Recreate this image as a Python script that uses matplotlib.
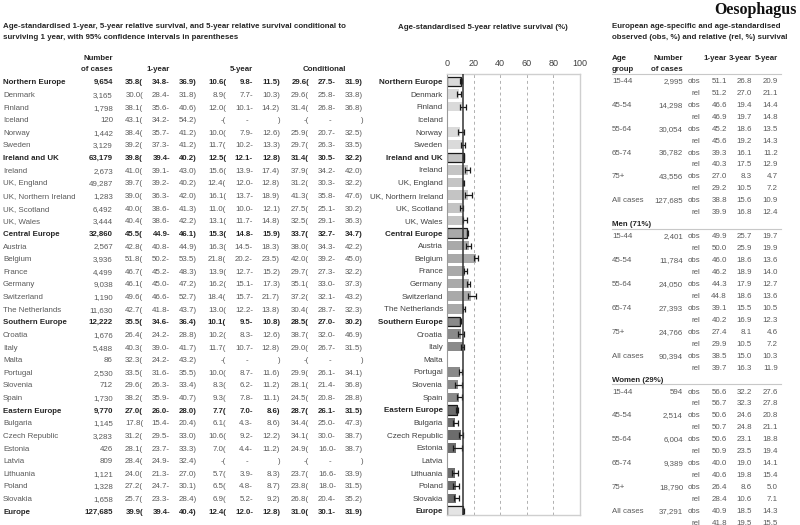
import numpy as np
import matplotlib
matplotlib.use('Agg')
import matplotlib.pyplot as plt

plt.rcParams['font.family'] = ['Liberation Sans', 'DejaVu Sans']

# ---- data: left table / middle bars ----
countries = ['Northern Europe', 'Denmark', 'Finland', 'Iceland', 'Norway', 'Sweden',
             'Ireland and UK', 'Ireland', 'UK, England', 'UK, Northern Ireland', 'UK, Scotland', 'UK, Wales',
             'Central Europe', 'Austria', 'Belgium', 'France', 'Germany', 'Switzerland', 'The Netherlands',
             'Southern Europe', 'Croatia', 'Italy', 'Malta', 'Portugal', 'Slovenia', 'Spain',
             'Eastern Europe', 'Bulgaria', 'Czech Republic', 'Estonia', 'Latvia', 'Lithuania', 'Poland', 'Slovakia',
             'Europe']
regions = ['Northern Europe', 'Ireland and UK', 'Central Europe', 'Southern Europe', 'Eastern Europe', 'Europe']
cases = [9654, 3165, 1798, 120, 1442, 3129, 63179, 2673, 49287, 1283, 6492, 3444, 32860, 2567, 3936,
         4499, 9038, 1190, 11630, 12222, 1676, 5488, 86, 2530, 712, 1730, 9770, 1145, 3283, 426, 809,
         1121, 1328, 1658, 127685]
nan = np.nan
surv1 = [35.8, 30.0, 38.1, 43.1, 38.4, 39.2, 39.8, 41.0, 39.7, 39.0, 40.0, 40.4, 45.5, 42.8, 51.8, 46.7,
         46.1, 49.6, 42.7, 35.5, 26.4, 40.3, 32.3, 33.5, 29.6, 38.2, 27.0, 17.8, 31.2, 28.1, 28.4, 24.0,
         27.2, 25.7, 39.9]
lo1 = [34.8, 28.4, 35.6, 34.2, 35.7, 37.3, 39.4, 39.1, 39.2, 36.3, 38.6, 38.6, 44.9, 40.8, 50.2, 45.2,
       45.0, 46.6, 41.8, 34.6, 24.2, 39.0, 24.2, 31.6, 26.3, 35.9, 26.0, 15.4, 29.5, 23.7, 24.9, 21.3,
       24.7, 23.3, 39.4]
hi1 = [36.9, 31.8, 40.6, 54.2, 41.2, 41.2, 40.2, 43.0, 40.2, 42.0, 41.3, 42.2, 46.1, 44.9, 53.5, 48.3,
       47.2, 52.7, 43.7, 36.4, 28.8, 41.7, 43.2, 35.5, 33.4, 40.7, 28.0, 20.4, 33.0, 33.3, 32.4, 27.0,
       30.1, 28.4, 40.4]
surv5 = [10.6, 8.9, 12.0, nan, 10.0, 11.7, 12.5, 15.6, 12.4, 16.1, 11.0, 13.1, 15.3, 16.3, 21.8, 13.9,
         16.2, 18.4, 13.0, 10.1, 10.2, 11.7, nan, 10.0, 8.3, 9.3, 7.7, 6.1, 10.6, 7.0, nan, 5.7, 6.5, 6.9, 12.4]
lo5 = [9.8, 7.7, 10.1, nan, 7.9, 10.2, 12.1, 13.9, 12.0, 13.7, 10.0, 11.7, 14.8, 14.5, 20.2, 12.7,
       15.1, 15.7, 12.2, 9.5, 8.3, 10.7, nan, 8.7, 6.2, 7.8, 7.0, 4.3, 9.2, 4.4, nan, 3.9, 4.8, 5.2, 12.0]
hi5 = [11.5, 10.3, 14.2, nan, 12.6, 13.3, 12.8, 17.4, 12.8, 18.9, 12.1, 14.8, 15.9, 18.3, 23.5, 15.2,
       17.3, 21.7, 13.8, 10.8, 12.6, 12.8, nan, 11.6, 11.2, 11.1, 8.6, 8.6, 12.2, 11.2, nan, 8.3, 8.7, 9.2, 12.8]
cond = [29.6, 29.6, 31.4, nan, 25.9, 29.7, 31.4, 37.9, 31.2, 41.3, 27.5, 32.5, 33.7, 38.0, 42.0, 29.7,
        35.1, 37.2, 30.4, 28.5, 38.7, 29.0, nan, 29.9, 28.1, 24.5, 28.7, 34.4, 34.1, 24.9, nan, 23.7,
        23.8, 26.8, 31.0]
loc = [27.5, 25.8, 26.8, nan, 20.7, 26.3, 30.5, 34.2, 30.3, 35.8, 25.1, 29.1, 32.7, 34.3, 39.2, 27.3,
       33.0, 32.1, 28.7, 27.0, 32.0, 26.7, nan, 26.1, 21.4, 20.8, 26.1, 25.0, 30.0, 16.0, nan, 16.6,
       18.0, 20.4, 30.1]
hic = [31.9, 33.8, 36.8, nan, 32.5, 33.5, 32.2, 42.0, 32.2, 47.6, 30.2, 36.3, 34.7, 42.2, 45.0, 32.2,
       37.3, 43.2, 32.3, 30.2, 46.9, 31.5, nan, 34.1, 36.8, 28.8, 31.5, 47.3, 38.7, 38.7, nan, 33.9,
       31.5, 35.2, 31.9]
group = [0]*6 + [1]*6 + [2]*7 + [3]*7 + [4]*8 + [5]
group_colors = ['#dadada', '#c4c4c4', '#a9a9a9', '#8a8a8a', '#6c6c6c', '#e4e4e4']

# ---- data: right table ----
age_groups = ['15-44', '45-54', '55-64', '65-74', '75+', 'All cases']
all_cases = [2995, 14298, 30054, 36782, 43556, 127685]
all_obs = [[51.1, 26.8, 20.9], [46.6, 19.4, 14.4], [45.2, 18.6, 13.5], [39.3, 16.1, 11.2], [27.0, 8.3, 4.7], [38.8, 15.6, 10.9]]
all_rel = [[51.2, 27.0, 21.1], [46.9, 19.7, 14.8], [45.6, 19.2, 14.3], [40.3, 17.5, 12.9], [29.2, 10.5, 7.2], [39.9, 16.8, 12.4]]
men_cases = [2401, 11784, 24050, 27393, 24766, 90394]
men_obs = [[49.9, 25.7, 19.7], [46.0, 18.6, 13.6], [44.3, 17.9, 12.7], [39.1, 15.5, 10.5], [27.4, 8.1, 4.6], [38.5, 15.0, 10.3]]
men_rel = [[50.0, 25.9, 19.9], [46.2, 18.9, 14.0], [44.8, 18.6, 13.6], [40.2, 16.9, 12.3], [29.9, 10.5, 7.2], [39.7, 16.3, 11.9]]
women_cases = [594, 2514, 6004, 9389, 18790, 37291]
women_obs = [[56.6, 32.2, 27.6], [50.6, 24.6, 20.8], [50.6, 23.1, 18.8], [40.0, 19.0, 14.1], [26.4, 8.6, 5.0], [40.9, 18.5, 14.3]]
women_rel = [[56.7, 32.3, 27.8], [50.7, 24.8, 21.1], [50.9, 23.5, 19.4], [40.6, 19.8, 15.4], [28.4, 10.6, 7.1], [41.8, 19.5, 15.5]]

W, H = 800, 525
fig = plt.figure(figsize=(W/100, H/100), dpi=100)
FS = 5.7
GREY = '#5a5a5a'
DARK = '#262626'
CAP = 0.716 * FS * 100 / 72 / 2   # half cap height in px, to centre text on a row


def txt(x, y, s, ha='left', bold=False, color=GREY, size=FS, **kw):
    fig.text(x/W, 1 - (y + CAP)/H, s, ha=ha, va='baseline', fontsize=size,
             fontweight='bold' if bold else 'normal', color=color, **kw)


# ---- left table ----
txt(3, 25, 'Age-standardised 1-year, 5-year relative survival, and 5-year relative survival conditional to',
    bold=True, color=DARK)
txt(3, 36, 'surviving 1 year, with 95% confidence intervals in parentheses', bold=True, color=DARK)
txt(113, 57, 'Number', ha='right', bold=True, color=DARK)
txt(113, 68, 'of cases', ha='right', bold=True, color=DARK)
gx = [143, 226, 309]
for g, lab in zip(gx, ['1-year', '5-year', 'Conditional']):
    txt(g + 15, 68, lab, ha='center', bold=True, color=DARK)

y0, dy = 81.5, 12.63
for i, name in enumerate(countries):
    y = y0 + i*dy
    b = name in regions
    c = DARK if b else GREY
    txt(3, y, name, bold=b, color=c)
    txt(113, y, f'{cases[i]:,}', ha='right', bold=b, color=c)
    for g, (v, lo, hi) in zip(gx, [(surv1, lo1, hi1), (surv5, lo5, hi5), (cond, loc, hic)]):
        if np.isnan(v[i]):
            txt(g, y, '-(', ha='right', bold=b, color=c)
            txt(g + 22, y, '-', ha='right', bold=b, color=c)
            txt(g + 54, y, ')', ha='right', bold=b, color=c)
        else:
            txt(g, y, f'{v[i]:.1f}(', ha='right', bold=b, color=c)
            txt(g + 27, y, f'{lo[i]:.1f}-', ha='right', bold=b, color=c)
            txt(g + 54, y, f'{hi[i]:.1f})', ha='right', bold=b, color=c)

# ---- middle bar chart ----
txt(483, 26, 'Age-standardised 5-year relative survival (%)', ha='center', bold=True, color=DARK)
ax_l, ax_r, ax_t, ax_b = 447, 580, 74, 515
ax = fig.add_axes([ax_l/W, 1 - ax_b/H, (ax_r - ax_l)/W, (ax_b - ax_t)/H])
n = len(countries)
ypos = np.arange(n)
vals = np.array(surv5)
err = np.array([vals - np.array(lo5), np.array(hi5) - vals])
for i in range(n):
    if np.isnan(vals[i]):
        continue
    b = countries[i] in regions
    ax.barh(i, vals[i], height=0.75, color=group_colors[group[i]],
            edgecolor='#1a1a1a' if b else 'none', linewidth=0.9 if b else 0, zorder=2)
    ax.errorbar(vals[i], i, xerr=err[:, i:i+1], fmt='none', ecolor='#1a1a1a',
                elinewidth=0.9, capsize=2, capthick=0.9, zorder=3)
ax.axvline(surv5[-1], color='#333333', lw=1.1, zorder=4)
ax.set_xlim(0, 100)
ax.set_ylim(n - 1 + (ax_b - (y0 + (n-1)*dy))/dy, -(y0 - ax_t)/dy)
ax.set_xticks([0, 20, 40, 60, 80, 100])
ax.xaxis.tick_top()
ax.tick_params(axis='x', length=0, labelsize=FS + 0.8, labelcolor='#404040', pad=4)
ax.set_yticks(ypos)
ax.set_yticklabels(countries)
for lab in ax.get_yticklabels():
    if lab.get_text() in regions:
        lab.set_fontweight('bold')
        lab.set_color(DARK)
    else:
        lab.set_color('#404040')
ax.tick_params(axis='y', length=0, labelsize=FS + 0.1, pad=3)
ax.grid(axis='x', linestyle=(0, (3, 3)), color='#b0b0b0', lw=0.7, zorder=0)
for side in ['top', 'bottom', 'right']:
    ax.spines[side].set_color('#cfcfcf')
    ax.spines[side].set_linewidth(1.0)
ax.spines['left'].set_color('#9a9a9a')
ax.spines['left'].set_linewidth(0.8)

# ---- right table ----
fig.text(797/W, 1 - 10/H, 'Oesophagus', ha='right', va='center', fontsize=11.5,
         fontweight='bold', family=['Liberation Serif', 'DejaVu Serif'], color='#111111')
txt(612, 25, 'European age-specific and age-standardised', bold=True, color=DARK)
txt(612, 36, 'observed (obs, %) and relative (rel, %) survival', bold=True, color=DARK)
txt(612, 57, 'Age', bold=True, color=DARK)
txt(612, 68, 'group', bold=True, color=DARK)
txt(683, 57, 'Number', ha='right', bold=True, color=DARK)
txt(683, 68, 'of cases', ha='right', bold=True, color=DARK)
col_x = [727, 752, 778]
for cx, lab in zip(col_x, ['1-year', '3-year', '5-year']):
    txt(cx, 57, lab, ha='right', bold=True, color=DARK)


def hline(y):
    fig.add_artist(plt.Line2D([612/W, 781/W], [1 - y/H, 1 - y/H], color='#c8c8c8', lw=0.8))


hline(74)
ry0, rdy = 80, 11.95
row = 0
blocks = [(None, all_cases, all_obs, all_rel),
          ('Men (71%)', men_cases, men_obs, men_rel),
          ('Women (29%)', women_cases, women_obs, women_rel)]
for title, nc, obs, rel in blocks:
    if title is not None:
        y = ry0 + row*rdy
        txt(612, y, title, bold=True, color=DARK)
        hline(y + 5.5)
        row += 1
    for k, ag in enumerate(age_groups):
        y = ry0 + row*rdy
        txt(612, y, ag)
        txt(683, y, f'{nc[k]:,}', ha='right')
        txt(700, y, 'obs', ha='right')
        for cx, v in zip(col_x, obs[k]):
            txt(cx, y, f'{v:.1f}', ha='right')
        row += 1
        y = ry0 + row*rdy
        txt(700, y, 'rel', ha='right')
        for cx, v in zip(col_x, rel[k]):
            txt(cx, y, f'{v:.1f}', ha='right')
        row += 1

fig.savefig('out.png', dpi=100)
